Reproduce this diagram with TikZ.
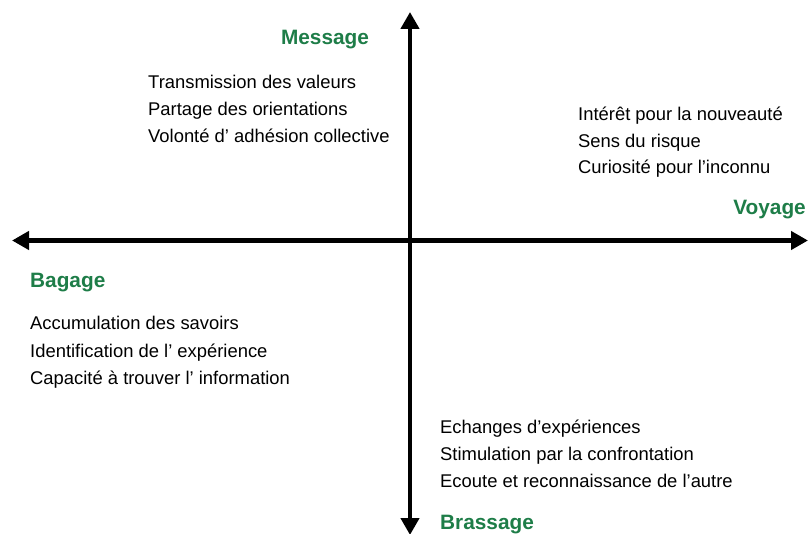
\documentclass[tikz,border=0pt]{standalone}
\usepackage{fontspec}
\setmainfont{Liberation Sans}
\usetikzlibrary{arrows.meta}
\definecolor{headgreen}{RGB}{30,125,72}
\begin{document}
\begin{tikzpicture}[x=1pt,y=-1pt,
  body/.style={anchor=base west,inner sep=0pt,font=\fontsize{18.4}{22}\selectfont},
  head/.style={inner sep=0pt,text=headgreen,font=\fontsize{20.8}{24}\selectfont\bfseries},
  axis/.style={line width=4.6pt,{Triangle[length=17pt,width=18pt]}-{Triangle[length=17pt,width=18pt]}}]
\useasboundingbox (0,0) rectangle (808,534);
\coordinate (L) at (12,240.5);
\coordinate (R) at (808,240.5);
\coordinate (T) at (410,12);
\coordinate (B) at (410,535);
\draw[axis] (L) -- (R);
\draw[axis] (T) -- (B);
% Message
\node[head,anchor=base] (msg) at (325,45) {Message};
\node[body] (m1) at (148,89) {Transmission des valeurs};
\node[body] (m2) at (148,116) {Partage des orientations};
\node[body] (m3) at (148,143) {Volonté d’ adhésion collective};
% Voyage
\node[body] (v1) at (578,121) {Intérêt pour la nouveauté};
\node[body] (v2) at (578,147.5) {Sens du risque};
\node[body] (v3) at (578,174) {Curiosité pour l’inconnu};
\node[head,anchor=base east] (voy) at (806,215) {Voyage};
% Bagage
\node[head,anchor=base west] (bag) at (30,288) {Bagage};
\node[body] (b1) at (30,329.5) {Accumulation des savoirs};
\node[body] (b2) at (30,357) {Identification de l’ expérience};
\node[body] (b3) at (30,384.5) {Capacité à trouver l’ information};
% Brassage
\node[body] (r1) at (440,433.5) {Echanges d’expériences};
\node[body] (r2) at (440,460.5) {Stimulation par la confrontation};
\node[body] (r3) at (440,487.5) {Ecoute et reconnaissance de l’autre};
\node[head,anchor=base west] (bra) at (440,529.5) {Brassage};
\end{tikzpicture}
\end{document}
